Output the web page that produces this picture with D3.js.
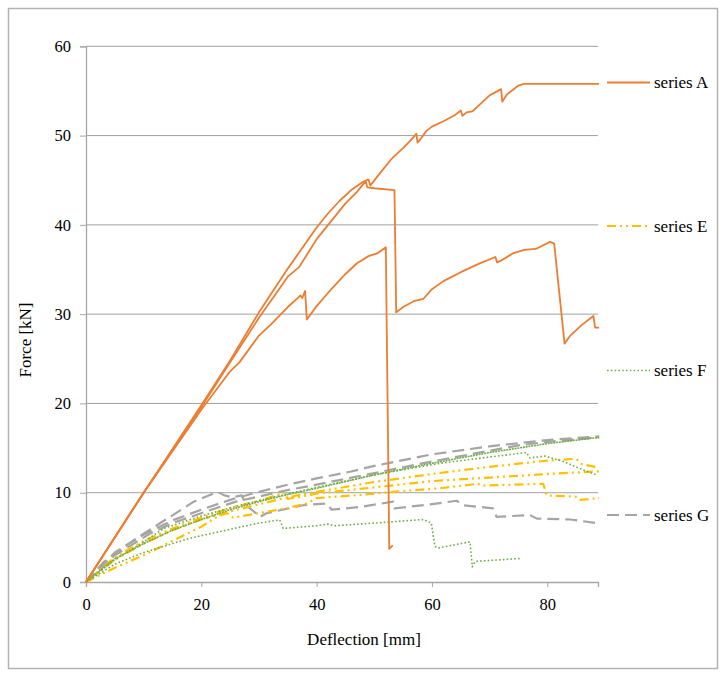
<!DOCTYPE html>
<html><head><meta charset="utf-8">
<script src="https://cdn.jsdelivr.net/npm/d3@7"></script>
<style>body{margin:0;background:#fff;}</style>
</head><body>
<svg id="c" width="727" height="678"></svg>
<script>
// ---- data ----
const xTicks = [0, 20, 40, 60, 80];
const yTicks = [0, 10, 20, 30, 40, 50, 60];
const legendNames = ["series A", "series E", "series F", "series G"];

// series A (orange, solid)
const seriesA1 = [[0,0],[10,10],[20,19.8],[25,24.8],[30,30.2],[35,35.1],[40,39.7],[42,41.3],[44,42.7],[46,43.9],[48,44.8],[49,45.1],[49.3,44.4],[51,45.8],[53,47.4],[54,48.0],[55,48.6],[56.5,49.6],[57.3,50.2],[57.5,49.2],[58,49.6],[59,50.5],[60,51.0],[62,51.6],[64,52.3],[65,52.8],[65.3,52.2],[66,52.6],[67,52.7],[68,53.3],[70,54.5],[72,55.2],[72.2,53.8],[73,54.6],[75,55.6],[76,55.8],[89,55.8]];
const seriesA2 = [[0,0],[10,10],[20,19.6],[25,24.6],[30,29.6],[35,34.2],[37,35.3],[40,38.4],[42,40.0],[45,42.4],[47,43.7],[48.5,44.9],[48.8,44.2],[50,44.1],[53.5,43.9],[53.8,30.2],[55,30.8],[57,31.5],[58.5,31.7],[60,32.8],[62,33.7],[65,34.7],[68,35.6],[71,36.4],[71.3,35.8],[72,36.0],[74,36.8],[76,37.2],[78,37.3],[80.5,38.1],[81.2,37.9],[83,26.7],[84,27.6],[86,28.8],[88,29.8],[88.3,28.5],[89,28.5]];
const seriesA3 = [[0,0],[10,10],[20,19.3],[25,23.6],[26.6,24.6],[30,27.6],[32,28.8],[35,30.8],[36.7,31.8],[37.2,32.1],[37.5,31.8],[38,32.6],[38.3,29.4],[40,30.9],[42,32.4],[45,34.5],[47,35.7],[49,36.5],[50.5,36.8],[52,37.5],[52.6,3.7],[53.2,4.1]];

// series E (yellow, dash-dot-dot)
const seriesE1 = [[0,0],[5,2.5],[10,4.3],[15,5.8],[20,7.0],[25,7.9],[30,8.7],[35,9.5],[40,10.1],[50,11.2],[60,12.1],[70,12.9],[80,13.6],[85,13.8],[86,13.2],[89,12.8]];
const seriesE2 = [[0,0],[5,2.8],[10,4.6],[15,6.0],[20,7.2],[25,8.3],[30,9.1],[34.5,10.0],[35,9.3],[40,9.9],[50,10.6],[60,11.3],[70,11.7],[80,12.1],[89,12.4]];
const seriesE3 = [[0,0],[5,1.6],[10,3.0],[15,4.6],[20,6.2],[23,7.4],[24.5,7.7],[25.5,7.2],[30,7.7],[35,8.3],[38.3,8.8],[40,9.4],[47.5,9.75],[55,10.2],[61.4,10.5],[68,11.0],[68.5,10.8],[79.3,11.0],[79.9,9.7],[85.1,9.55],[85.7,9.2],[89,9.4]];

// series F (green, dotted)
const seriesF1 = [[0,0],[5,2.6],[10,4.3],[15,5.8],[20,7.0],[25,8.1],[30,9.0],[35,9.8],[40,10.5],[50,12.0],[60,13.3],[70,14.5],[80,15.5],[89,16.2]];
const seriesF2 = [[0,0],[5,2.5],[10,4.5],[13.5,6.0],[20,7.4],[25,8.3],[30.5,9.2],[40,10.6],[50,12.0],[61.4,13.3],[70,14.0],[76.4,14.5],[77,13.9],[79.6,14.1],[82.8,13.5],[85.7,12.7],[88.5,12.0]];
const seriesF3 = [[0,0],[5,2.0],[10,3.3],[15,4.3],[18,4.9],[25,5.9],[30,6.6],[33.6,6.95],[34.2,6.0],[40,6.3],[42,6.5],[43,6.3],[50,6.6],[58.5,7.0],[59.9,6.6],[60.5,4.0],[61,3.8],[66.6,4.5],[67,1.7],[67.5,2.3],[75.6,2.65]];

// series G (gray, dashed)
const seriesG1 = [[0,0],[5,3.3],[10,5.3],[15,6.9],[20,8.1],[25,9.2],[30,10.1],[35,10.9],[40,11.6],[45.8,12.35],[50,13.0],[60,14.3],[70,15.2],[80,15.9],[89,16.3]];
const seriesG2 = [[0,0],[3,2.2],[8.3,4.7],[14.1,7.1],[18.7,9.0],[22.8,10.1],[24,9.7],[25.4,9.5],[27,9.7],[27.8,8.6],[30.2,7.3],[31.3,7.7],[37.7,8.6],[41.7,8.8],[42.6,8.1],[47.5,8.4],[53.3,9.0],[53.5,8.25],[59.7,8.7],[64.3,9.1],[65.4,8.6],[70.6,8.25],[71.2,7.3],[77,7.5],[78.2,7.1],[84,7.0],[88.6,6.6]];
const seriesG3 = [[0,0],[5,3.0],[11.2,5.45],[15,6.6],[21.6,8.06],[26,9.0],[30.9,9.7],[35,10.3],[40,10.9],[50,12.2],[60,13.5],[70,14.7],[75,15.3],[80,15.7],[89,16.2]];

// ---- chart ----
const FONT = "'Liberation Serif'";
const svg = d3.select("#c");
const X0 = 86, X1 = 598, Y0 = 582, Y1 = 46.3;
const x = d3.scaleLinear().domain([0, 88.8]).range([X0, X1]);
const y = d3.scaleLinear().domain([0, 60]).range([Y0, Y1]);
const axisCol = "#a6a6a6";

// outer border
svg.append("rect").attr("x", 8.5).attr("y", 8.5).attr("width", 709).attr("height", 660)
  .attr("fill", "none").attr("stroke", "#b3b3b3").attr("stroke-width", 1.5);

// gridlines
svg.append("g").selectAll("line").data(yTicks.filter(d => d > 0)).join("line")
  .attr("x1", X0).attr("x2", X1).attr("y1", d => y(d)).attr("y2", d => y(d))
  .attr("stroke", "#a0a0a0").attr("stroke-width", 1);

// y axis
const yAxis = svg.append("g").attr("transform", `translate(${X0},0)`)
  .call(d3.axisLeft(y).tickValues(yTicks).tickSize(6).tickPadding(8));
// x axis
const xAxis = svg.append("g").attr("transform", `translate(0,${Y0})`)
  .call(d3.axisBottom(x).tickValues(xTicks).tickSize(5).tickPadding(8));
[yAxis, xAxis].forEach(g => {
  g.select(".domain").attr("stroke", axisCol).attr("stroke-width", 1.3);
  g.selectAll(".tick line").attr("stroke", axisCol).attr("stroke-width", 1);
  g.selectAll(".tick text").attr("fill", "#000")
    .style("font-family", FONT).style("font-size", "16.5px");
});
yAxis.selectAll(".tick text").attr("x", -15);
xAxis.selectAll(".tick text").attr("dy", "0.9em");

// axis titles
svg.append("text").attr("x", 364).attr("y", 645).attr("text-anchor", "middle")
  .style("font-family", FONT).style("font-size", "17px").text("Deflection [mm]");
svg.append("text").attr("transform", "translate(31,340) rotate(-90)").attr("text-anchor", "middle")
  .style("font-family", FONT).style("font-size", "17px").text("Force [kN]");

// series styles
const styles = {
  A: {color: "#ED7D31", width: 1.8, dash: null},
  E: {color: "#FFC000", width: 2.2, dash: "9,4,2,4,2,4"},
  F: {color: "#70AD47", width: 1.6, dash: "1.6,2.2"},
  F1: {color: "#70AD47", width: 1.6, dash: "2,0.8"},
  G: {color: "#A5A5A5", width: 2.2, dash: "12,6"}
};
const curves = [
  {d: seriesG1, s: "G"}, {d: seriesG2, s: "G"}, {d: seriesG3, s: "G"},
  {d: seriesE1, s: "E"}, {d: seriesE2, s: "E"}, {d: seriesE3, s: "E"},
  {d: seriesF2, s: "F"}, {d: seriesF3, s: "F"}, {d: seriesF1, s: "F1"},
  {d: seriesA3, s: "A"}, {d: seriesA2, s: "A"}, {d: seriesA1, s: "A"}
];
const line = d3.line().x(d => x(d[0])).y(d => y(d[1]));
svg.append("g").selectAll("path").data(curves).join("path")
  .attr("d", c => line(c.d)).attr("fill", "none")
  .attr("stroke", c => styles[c.s].color)
  .attr("stroke-width", c => styles[c.s].width)
  .attr("stroke-dasharray", c => styles[c.s].dash)
  .attr("stroke-linejoin", "round");

// legend
const legKeys = ["A", "E", "F", "G"];
const legY = [82.5, 226, 370.5, 515];
const lg = svg.append("g");
legKeys.forEach((k, i) => {
  lg.append("line").attr("x1", 607).attr("x2", 650).attr("y1", legY[i]).attr("y2", legY[i])
    .attr("stroke", styles[k].color).attr("stroke-width", styles[k].width)
    .attr("stroke-dasharray", styles[k].dash);
  lg.append("text").attr("x", 654).attr("y", legY[i]).attr("dy", "0.33em")
    .style("font-family", FONT).style("font-size", "17px").text(legendNames[i]);
});
</script>
</body></html>
